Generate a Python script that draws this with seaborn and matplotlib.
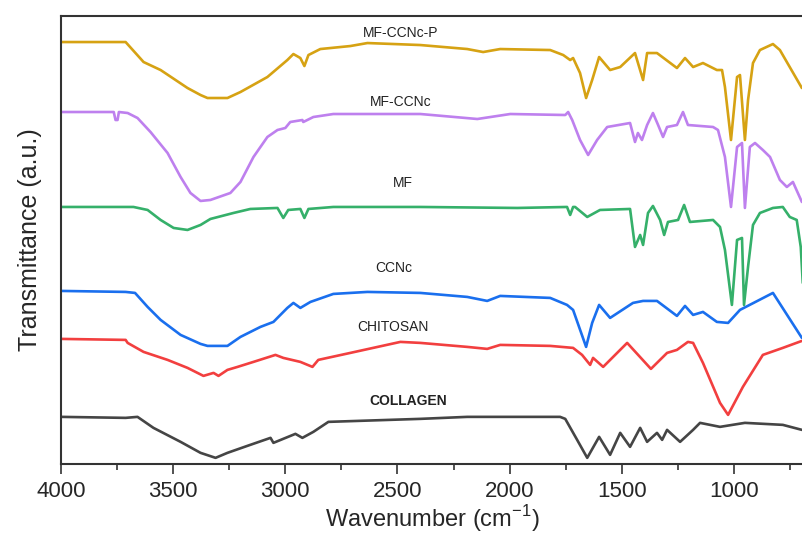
import numpy as np
import pandas as pd
import matplotlib
matplotlib.use('Agg')
import matplotlib.pyplot as plt
from matplotlib.ticker import MultipleLocator
import seaborn as sns

# spettri FTIR (numero d'onda in cm-1, trasmittanza in u.a. con offset)
wn_mfccncp = [4000, 3712, 3700, 3632, 3556, 3436, 3378, 3347, 3258, 3200, 3080, 2991, 2964, 2933,
              2915, 2897, 2844, 2710, 2634, 2398, 2189, 2118, 2042, 1819, 1761, 1730, 1717, 1686,
              1659, 1632, 1601, 1552, 1507, 1441, 1405, 1387, 1343, 1254, 1218, 1182, 1138, 1076,
              1053, 1040, 1013, 986, 973, 951, 937, 915, 884, 826, 795, 697]
t_mfccncp = [422, 422, 419, 402, 394, 376, 369, 366, 366, 372, 387, 404, 410, 406,
             398, 409, 415, 418, 421, 419, 415, 412, 415, 414, 409, 404, 406, 391,
             366, 384, 407, 394, 397, 411, 384, 411, 411, 396, 406, 397, 401, 394,
             394, 377, 324, 387, 389, 324, 364, 401, 414, 420, 414, 376]

wn_mfccnc = [4000, 3765, 3757, 3748, 3742, 3703, 3659, 3601, 3525, 3467, 3423, 3378, 3334, 3245,
             3200, 3142, 3080, 3035, 3000, 2978, 2924, 2920, 2875, 2786, 2398, 2144, 1997, 1752,
             1739, 1721, 1686, 1650, 1610, 1565, 1463, 1441, 1428, 1410, 1387, 1361, 1338, 1316,
             1298, 1254, 1227, 1205, 1093, 1071, 1040, 1013, 986, 964, 951, 929, 906, 871, 839,
             795, 764, 737, 697]
t_mfccnc = [352, 352, 344, 344, 352, 351, 346, 332, 311, 287, 271, 263, 264, 271,
            282, 307, 327, 334, 336, 342, 344, 342, 347, 350, 350, 345, 350, 349,
            352, 344, 324, 309, 324, 337, 341, 322, 331, 324, 339, 351, 339, 327,
            337, 339, 352, 339, 337, 334, 307, 257, 317, 321, 256, 317, 321, 314, 307,
            284, 277, 282, 262]

wn_mf = [4000, 3677, 3614, 3556, 3498, 3436, 3378, 3334, 3231, 3156, 3035, 3009, 2987, 2933,
         2915, 2897, 2786, 2398, 1966, 1744, 1730, 1717, 1708, 1654, 1597, 1463, 1441, 1418,
         1405, 1383, 1361, 1329, 1311, 1294, 1249, 1222, 1196, 1093, 1062, 1040, 1009, 986,
         964, 955, 937, 915, 884, 826, 782, 751, 720, 702, 693]
t_mf = [257, 257, 254, 244, 236, 234, 239, 245, 251, 255, 256, 246, 254, 255,
        246, 255, 257, 257, 256, 257, 249, 257, 257, 247, 254, 255, 217, 229,
        219, 251, 258, 244, 229, 242, 244, 259, 242, 244, 237, 214, 159, 224,
        226, 159, 197, 239, 251, 256, 257, 247, 244, 217, 181]

wn_ccnc = [4000, 3712, 3670, 3614, 3556, 3467, 3378, 3347, 3258, 3200, 3111, 3053, 2991, 2964,
           2933, 2888, 2786, 2634, 2398, 2189, 2100, 2042, 1819, 1744, 1717, 1659, 1632, 1601,
           1552, 1450, 1405, 1343, 1254, 1218, 1182, 1138, 1076, 1026, 973, 826, 697]
t_ccnc = [173, 172, 171, 157, 144, 129, 120, 118, 118, 127, 137, 142, 156, 161,
          156, 162, 170, 172, 171, 167, 163, 168, 166, 159, 154, 117, 141, 159,
          146, 161, 163, 163, 148, 158, 149, 152, 142, 141, 154, 171, 126]

wn_chitosan = [4000, 3712, 3703, 3632, 3525, 3436, 3365, 3320, 3298, 3258, 3213, 3142, 3044, 3009,
               2933, 2879, 2853, 2710, 2487, 2398, 2189, 2100, 2042, 1819, 1717, 1677, 1641, 1628,
               1583, 1476, 1370, 1298, 1254, 1205, 1182, 1138, 1062, 1026, 960, 871, 782, 697]
t_chitosan = [125, 124, 121, 112, 104, 96, 88, 91, 88, 94, 97, 102, 109, 106,
              102, 97, 104, 111, 122, 121, 117, 115, 119, 118, 116, 109, 99, 106,
              97, 121, 95, 111, 114, 122, 121, 101, 61, 49, 77, 109, 116, 123]

wn_collagen = [4000, 3712, 3659, 3588, 3467, 3378, 3311, 3258, 3169, 3066, 3053, 2955, 2924, 2875,
               2808, 2398, 2189, 1775, 1752, 1699, 1654, 1601, 1552, 1507, 1463, 1418, 1387, 1343,
               1320, 1298, 1240, 1182, 1151, 1062, 951, 782, 697]
t_collagen = [47, 46, 47, 36, 22, 11, 6, 11, 18, 26, 21, 30, 26, 32,
              42, 45, 47, 47, 45, 24, 6, 27, 9, 31, 17, 36, 22, 31,
              24, 34, 22, 34, 41, 37, 41, 39, 34]

campioni = ['MF-CCNc-P', 'MF-CCNc', 'MF', 'CCNc', 'CHITOSAN', 'COLLAGEN']
colori = ['#D6A213', '#BE80EE', '#35B06A', '#1A6FEE', '#F23F3F', '#454545']

spettri = [(wn_mfccncp, t_mfccncp), (wn_mfccnc, t_mfccnc), (wn_mf, t_mf),
           (wn_ccnc, t_ccnc), (wn_chitosan, t_chitosan), (wn_collagen, t_collagen)]

righe = []
for nome, (wn, t) in zip(campioni, spettri):
    righe.append(pd.DataFrame({'wavenumber': wn, 'trasmittanza': t, 'campione': nome}))
df = pd.concat(righe, ignore_index=True)

sns.set_style('ticks')
plt.rcParams['font.family'] = ['Liberation Sans', 'DejaVu Sans']

fig = plt.figure(figsize=(8.03, 5.35), dpi=100)
ax = fig.add_axes([0.076, 0.133, 0.924, 0.837])

sns.lineplot(data=df, x='wavenumber', y='trasmittanza', hue='campione',
             hue_order=campioni, palette=colori, estimator=None, sort=True,
             linewidth=1.9, legend=False, ax=ax)

# etichette dei campioni
etichette = [(2487, 431, 'MF-CCNc-P'), (2487, 362, 'MF-CCNc'), (2474, 281, 'MF'),
             (2518, 196, 'CCNc'), (2518, 137, 'CHITOSAN'), (2451, 63, 'COLLAGEN')]
for x, y, testo in etichette:
    ax.text(x, y, testo, ha='center', va='center', fontsize=10,
            fontweight='bold' if testo == 'COLLAGEN' else 'normal', color='#222222')

ax.set_xlim(4000, 692)
ax.set_ylim(0, 448)
ax.set_xticks([4000, 3500, 3000, 2500, 2000, 1500, 1000])
ax.xaxis.set_minor_locator(MultipleLocator(250))
ax.set_yticks([])
ax.tick_params(axis='x', which='major', length=7, width=1.2, labelsize=16, pad=5, color='#333333')
ax.tick_params(axis='x', which='minor', length=4, width=1.2, color='#333333')
for lato in ['left', 'bottom', 'top']:
    ax.spines[lato].set_linewidth(1.5)
    ax.spines[lato].set_color('#333333')
ax.spines['right'].set_visible(False)

ax.set_xlabel('Wavenumber (cm$^{\\mathregular{-1}}$)', fontsize=17, labelpad=1)
ax.set_ylabel('Transmittance (a.u.)', fontsize=18, labelpad=14)

fig.savefig('out.png', dpi=100)
